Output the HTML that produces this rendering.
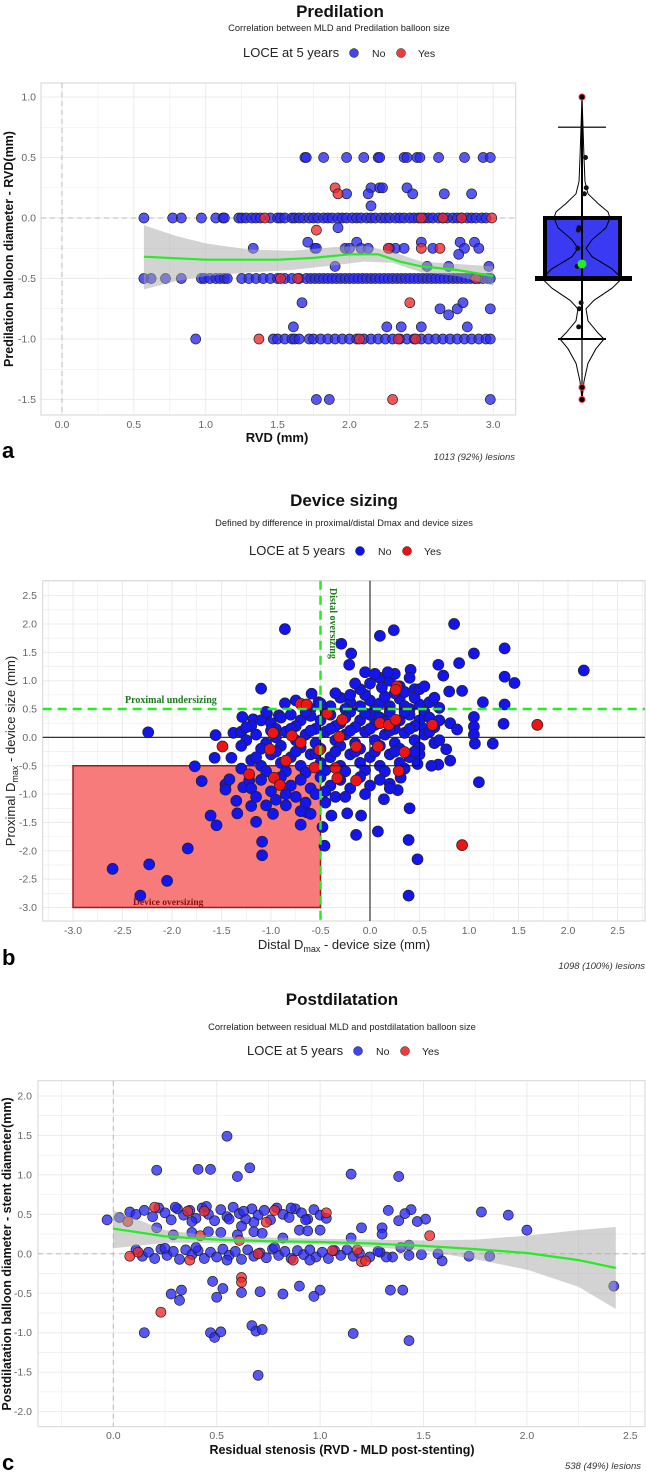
<!DOCTYPE html>
<html><head><meta charset="utf-8"><style>
html,body{margin:0;padding:0;background:#fff;}
svg{display:block;font-family:"Liberation Sans",sans-serif;}
</style></head><body>
<svg id="fig" width="646" height="1473" viewBox="0 0 646 1473"></svg>
<script>
// ---------------- Panel a data ----------------
const aNoX = [1.69,1.70,1.82,1.98,2.10,2.20,2.21,2.38,2.40,2.47,2.49,2.62,2.80,2.93,2.98, 2.15,2.21,2.23,2.40, 1.98,2.13,2.44,2.66,2.85, 2.15, 1.92,
 0.57,0.77,0.83,0.97,1.07,1.12,1.13,1.23,1.25,1.28,1.32,1.35,1.38,1.45,1.50,1.52,1.55,1.60,1.62,1.65,1.68,1.72,1.75,1.78,1.82,1.85,1.88,1.92,1.95,1.98,2.02,2.05,2.08,2.12,2.15,2.18,2.22,2.25,2.28,2.32,2.35,2.38,2.42,2.45,2.48,2.52,2.55,2.58,2.62,2.65,2.68,2.72,2.75,2.78,2.82,2.85,2.88,2.92,2.95,
 1.71,2.05,2.50,2.77,2.87, 1.33,1.76,1.77,1.97,2.00,2.08,2.13,2.28,2.32,2.38,2.58,2.80,2.90, 2.76, 1.90,2.54,2.69,2.97,
 0.57,0.62,0.72,0.83,0.97,0.99,1.03,1.07,1.10,1.13,1.15,1.25,1.30,1.35,1.40,1.45,1.50,1.55,1.60,1.65,1.70,1.73,1.76,1.79,1.82,1.85,1.88,1.91,1.94,1.97,2.00,2.03,2.06,2.09,2.12,2.15,2.18,2.21,2.24,2.27,2.30,2.33,2.36,2.39,2.42,2.45,2.48,2.51,2.54,2.57,2.60,2.63,2.66,2.69,2.72,2.75,2.78,2.81,2.84,2.87,2.90,2.93,2.96,2.98,
 1.67,2.63,2.75,2.98,2.69,2.79, 1.61,2.26,2.36,2.50,2.82,
 0.93,1.47,1.50,1.55,1.60,1.62,1.65,1.72,1.75,1.80,1.85,1.90,1.95,2.00,2.05,2.10,2.15,2.20,2.25,2.30,2.35,2.40,2.45,2.50,2.55,2.60,2.65,2.70,2.75,2.80,2.85,2.90,2.95,2.98,
 1.77,1.86,2.98];
const aNoY = [0.5,0.5,0.5,0.5,0.5,0.5,0.5,0.5,0.5,0.5,0.5,0.5,0.5,0.5,0.5, 0.25,0.25,0.25,0.25, 0.2,0.2,0.2,0.2,0.2, 0.1, -0.08,
 0,0,0,0,0,0,0,0,0,0,0,0,0,0,0,0,0,0,0,0,0,0,0,0,0,0,0,0,0,0,0,0,0,0,0,0,0,0,0,0,0,0,0,0,0,0,0,0,0,0,0,0,0,0,0,0,0,0,0,
 -0.2,-0.2,-0.2,-0.2,-0.2, -0.25,-0.25,-0.25,-0.25,-0.25,-0.25,-0.25,-0.25,-0.25,-0.25,-0.25,-0.25,-0.25, -0.3, -0.4,-0.4,-0.4,-0.4,
 -0.5,-0.5,-0.5,-0.5,-0.5,-0.5,-0.5,-0.5,-0.5,-0.5,-0.5,-0.5,-0.5,-0.5,-0.5,-0.5,-0.5,-0.5,-0.5,-0.5,-0.5,-0.5,-0.5,-0.5,-0.5,-0.5,-0.5,-0.5,-0.5,-0.5,-0.5,-0.5,-0.5,-0.5,-0.5,-0.5,-0.5,-0.5,-0.5,-0.5,-0.5,-0.5,-0.5,-0.5,-0.5,-0.5,-0.5,-0.5,-0.5,-0.5,-0.5,-0.5,-0.5,-0.5,-0.5,-0.5,-0.5,-0.5,-0.5,-0.5,-0.5,-0.5,-0.5,-0.5,
 -0.7,-0.75,-0.75,-0.75,-0.8,-0.7, -0.9,-0.9,-0.9,-0.9,-0.9,
 -1,-1,-1,-1,-1,-1,-1,-1,-1,-1,-1,-1,-1,-1,-1,-1,-1,-1,-1,-1,-1,-1,-1,-1,-1,-1,-1,-1,-1,-1,-1,-1,-1,-1,
 -1.5,-1.5,-1.5];
const aYesX = [1.90,1.92,1.41,2.50,2.65,2.78,2.99,1.77,2.27,2.50,2.63,1.52,1.64,2.88,2.42,1.37,2.07,2.34,2.46,2.30];
const aYesY = [0.25,0.2,0,0,0,0,0,-0.1,-0.25,-0.25,-0.25,-0.5,-0.5,-0.5,-0.7,-1,-1,-1,-1,-1.5];
const aFitX = [0.57,1.0,1.5,1.75,2.0,2.2,2.35,2.5,2.75,3.0];
const aFitY = [-0.32,-0.345,-0.345,-0.33,-0.30,-0.30,-0.36,-0.40,-0.43,-0.48];
const aBandX = [0.57,0.8,1.0,1.3,1.6,1.9,2.1,2.3,2.5,2.75,3.0];
const aBandHi = [-0.06,-0.15,-0.21,-0.26,-0.27,-0.24,-0.23,-0.28,-0.36,-0.38,-0.40];
const aBandLo = [-0.59,-0.52,-0.48,-0.45,-0.43,-0.39,-0.36,-0.37,-0.45,-0.48,-0.56];
const aXTicks = [0,0.5,1.0,1.5,2.0,2.5,3.0];
const aYTicks = [1.0,0.5,0,-0.5,-1.0,-1.5];
const aBox = {q1:-0.5, q3:0, lo:-1.0, hi:0.75, mean:-0.38};
const aOutliers = [1.0,-1.4,-1.5];

// ---------------- Panel b data ----------------
const bNoX = [-0.86,0.24,0.10,0.85,-0.29,-0.19,-0.21,1.05,1.36,0.90,0.69,2.16,1.36,1.46,0.74,0.41,-1.10,0.93,0.80,1.14,1.36,1.35,0.81,0.88,1.05,1.05,1.05,1.06,1.24,0.77,0.81,1.10,-2.24,-1.56,-1.38,-1.57,-1.40,-1.77,-1.70,-1.46,-1.46,-1.42,-1.35,-1.34,-1.61,-1.55,-1.15,-1.09,-1.09,-1.84,-2.23,-2.60,-2.05,-2.32,-0.70,-0.48,-0.46,-0.14,0.08,0.39,0.48,0.39,0.40,-0.23,-0.09,-0.39,-0.98,-0.64,-1.20,-1.28,-1.22,0.14,0.28,0.20,0.31,0.48,0.69,0.62,-1.29,-1.18,-0.86,-0.75,-0.59,-0.52,-0.92,-1.04,
 -0.5,-0.4,-0.3,-0.2,-0.1,0.0,0.1,0.2,0.3,0.4,0.5,0.6,-0.6,0.15,-0.25,0.05,0.35,0.55,0.7,-0.05,0.25,0.45,0.0,0.1,-0.1,0.2,0.3,0.35,0.45,-0.2,0.25,-0.05,0.05,0.18,0.5,0.55,-0.15,-0.35,0.4,0.65,0.12,
 -1.2,-1.1,-1.0,-0.9,-0.8,-0.7,-0.6,-0.5,-0.4,-0.3,-0.2,-0.1,0.0,0.1,0.2,0.3,0.4,0.5,0.6,-0.95,-0.75,-0.55,-0.35,-0.15,0.05,0.25,0.45,0.65,-0.65,-0.45,-0.25,-0.05,0.15,0.35,0.55,0.7,-1.05,-1.3,-1.25,
 -1.25,-1.15,-1.05,-0.95,-0.85,-0.75,-0.65,-0.55,-0.45,-0.35,-0.25,-0.15,-0.05,0.05,0.15,0.25,0.35,0.45,0.55,0.65,-1.1,-0.9,-0.7,-0.5,-0.3,-0.1,0.1,0.3,0.5,-1.0,-0.8,-0.6,-0.4,-0.2,0.0,0.2,0.4,0.6,0.7,-1.3,
 -1.2,-1.1,-1.0,-0.9,-0.8,-0.7,-0.6,-0.5,-0.4,-0.3,-0.2,-0.1,0.0,0.1,0.2,0.3,0.4,0.5,-1.05,-0.85,-0.65,-0.45,-0.25,-0.05,0.15,0.35,-0.95,-0.75,-0.55,-0.35,-0.15,0.05,0.25,0.45,-1.3,-1.15,
 -1.2,-1.1,-1.0,-0.9,-0.8,-0.7,-0.6,-0.5,-0.4,-0.3,-0.2,-0.1,0.0,0.1,0.2,-0.75,-0.65,-0.55,-0.45,-0.35,-0.95,-1.05,-0.85,-0.7,-0.6,-0.25,-0.05,-0.45,-0.85,-1.15];
const bNoY = [1.91,1.89,1.79,2.0,1.65,1.48,1.28,1.48,1.57,1.31,1.28,1.18,1.07,0.96,1.09,1.19,0.86,0.82,0.81,0.62,0.58,0.24,0.25,0.14,0.36,0.19,0.05,-0.11,-0.11,-0.21,-0.41,-0.79,0.09,0.04,0.08,-0.36,-0.36,-0.51,-0.77,-0.83,-0.92,-0.74,-1.12,-1.34,-1.38,-1.55,-1.49,-1.84,-2.08,-1.96,-2.24,-2.32,-2.53,-2.79,-1.54,-1.58,-1.91,-1.72,-1.66,-1.81,-2.15,-2.79,-1.25,-1.34,-1.38,-1.38,-1.35,-1.32,-1.21,-0.88,-0.76,-1.09,-0.93,-0.82,-0.71,-0.47,-0.48,-0.50,0.36,0.32,0.60,0.65,0.77,0.62,0.39,0.42,
 0.6,0.55,0.7,0.62,0.55,0.65,0.6,0.55,0.68,0.5,0.58,0.62,0.5,0.72,0.5,0.48,0.55,0.45,0.52,0.75,0.78,0.85,0.95,1.05,0.85,1.0,0.9,0.8,0.7,0.75,1.12,1.15,1.12,1.15,0.85,0.9,0.95,0.78,1.05,0.7,0.88,
 0.2,0.3,0.25,0.35,0.4,0.3,0.38,0.3,0.4,0.25,0.45,0.3,0.4,0.35,0.45,0.3,0.4,0.3,0.35,0.15,0.2,0.15,0.2,0.18,0.22,0.15,0.2,0.18,0.45,0.48,0.35,0.42,0.28,0.45,0.15,0.3,0.45,0.1,0.18,
 -0.05,0.05,-0.1,0.0,0.1,-0.05,0.05,-0.1,0.1,-0.05,0.05,-0.1,0.1,-0.05,0.05,-0.1,0.08,-0.05,0.05,-0.1,-0.2,-0.15,-0.18,-0.2,-0.15,-0.2,-0.15,-0.2,-0.18,0.12,0.15,0.12,0.15,0.12,0.15,0.12,0.15,0.1,-0.05,-0.15,
 -0.4,-0.5,-0.3,-0.45,-0.35,-0.5,-0.3,-0.45,-0.35,-0.5,-0.3,-0.45,-0.35,-0.5,-0.3,-0.45,-0.35,-0.3,-0.6,-0.6,-0.62,-0.58,-0.6,-0.58,-0.6,-0.55,-0.25,-0.25,-0.28,-0.25,-0.25,-0.25,-0.25,-0.25,-0.55,-0.35,
 -0.9,-0.75,-0.95,-0.7,-0.85,-0.75,-0.9,-0.7,-0.85,-0.75,-0.9,-0.7,-0.85,-0.75,-0.9,-1.05,-1.15,-1.0,-1.15,-1.05,-1.1,-1.2,-1.2,-1.3,-1.35,-1.05,-1.0,-0.95,-1.0,-1.05];
const bYesX = [1.69,-1.49,0.93,-0.70,-0.64,-0.98,-0.79,-0.85,-0.97,-0.91,-0.56,-0.51,-0.35,-0.33,-0.28,-0.31,-0.14,-0.14,0.10,0.08,0.19,0.26,0.35,0.27,0.26,0.63,0.29,-1.01,-1.22,-0.43,-0.70];
const bYesY = [0.22,-0.16,-1.90,0.59,0.58,0.08,0.03,-0.41,-0.71,-0.84,-0.53,-0.22,-0.54,-0.72,0.31,0.01,-0.16,-0.76,0.25,-0.16,0.22,0.31,-0.26,0.90,0.84,0.22,-0.59,-0.21,-0.65,0.42,-0.09];
const bXTicks = [-3.0,-2.5,-2.0,-1.5,-1.0,-0.5,0.0,0.5,1.0,1.5,2.0,2.5];
const bYTicks = [2.5,2.0,1.5,1.0,0.5,0.0,-0.5,-1.0,-1.5,-2.0,-2.5,-3.0];

// ---------------- Panel c data ----------------
const cNoX = [0.55,0.21,0.41,0.47,0.60,0.66,1.15,1.38,-0.03,0.03,1.78,1.91,2.00,2.42,1.72,1.82,1.59,1.57,1.49,1.51,1.47,1.44,1.33,1.30,1.30,1.20,1.38,1.41,1.43,1.39,1.43,1.35,1.32,1.29,
 0.48,0.53,0.50,0.62,0.71,0.82,0.90,1.00,0.97,1.34,1.40,0.28,0.33,0.32,0.15,0.47,0.49,0.52,0.67,0.69,0.72,0.70,1.16,1.43,
 0.08,0.11,0.15,0.19,0.22,0.25,0.28,0.31,0.34,0.37,0.40,0.43,0.46,0.49,0.52,0.55,0.58,0.61,0.64,0.67,0.70,0.73,0.76,0.79,0.82,0.85,0.88,0.91,0.94,0.97,1.00,1.03,0.30,0.38,0.45,0.56,0.63,0.68,0.86,0.93,
 0.11,0.14,0.17,0.20,0.23,0.26,0.29,0.32,0.35,0.38,0.41,0.44,0.47,0.50,0.53,0.56,0.59,0.62,0.65,0.68,0.71,0.74,0.77,0.80,0.83,0.86,0.89,0.92,0.95,0.98,1.01,1.04,1.07,1.10,1.13,1.16,1.19,1.24,1.28,0.25,0.40,0.55,0.78,0.95,
 0.21,0.29,0.38,0.46,0.52,0.60,0.68,0.72,0.82,0.90,0.94,1.00,1.15,0.62];
const cNoY = [1.49,1.06,1.07,1.07,0.98,1.09,1.01,0.98,0.43,0.46,0.53,0.49,0.30,-0.41,-0.03,-0.03,-0.09,0.0,-0.01,0.44,0.41,0.56,0.55,0.33,0.25,0.33,0.42,0.51,0.11,0.08,-0.02,-0.04,-0.04,0.02,
 -0.35,-0.44,-0.55,-0.49,-0.48,-0.51,-0.41,-0.46,-0.54,-0.46,-0.46,-0.51,-0.46,-0.59,-1.0,-1.0,-1.06,-0.99,-0.91,-0.98,-0.96,-1.54,-1.01,-1.10,
 0.53,0.50,0.55,0.47,0.58,0.52,0.43,0.57,0.49,0.55,0.45,0.58,0.50,0.42,0.56,0.47,0.59,0.51,0.44,0.57,0.49,0.55,0.43,0.58,0.50,0.46,0.57,0.52,0.44,0.56,0.49,0.45,0.59,0.41,0.60,0.44,0.54,0.40,0.58,0.43,
 0.05,-0.03,0.02,-0.06,0.06,-0.02,0.03,-0.07,0.05,-0.01,0.04,-0.06,0.02,-0.04,0.06,-0.02,0.03,-0.07,0.05,-0.03,0.01,-0.05,0.06,-0.02,0.03,-0.06,0.04,-0.01,0.05,-0.04,0.02,-0.06,0.04,-0.02,0.05,-0.03,0.01,-0.04,0.03,0.07,0.08,-0.08,0.08,-0.08,
 0.33,0.24,0.27,0.28,0.27,0.24,0.28,0.26,0.20,0.30,0.29,0.30,0.20,0.35];
const cYesX = [1.53,0.23,0.62,0.62,0.20,0.36,0.44,0.78,1.03,0.07,0.74,0.08,0.12,0.37,0.87,1.06,1.18,1.20,1.22,0.61,0.70,0.42];
const cYesY = [0.23,-0.74,-0.30,-0.36,0.59,0.54,0.54,0.55,0.52,0.41,0.40,-0.03,0.02,-0.08,-0.08,0.04,0.05,-0.10,-0.09,0.17,0.0,0.23];
const cFitX = [0,0.25,0.5,0.75,1.0,1.25,1.5,1.75,2.0,2.25,2.43];
const cFitY = [0.32,0.22,0.18,0.16,0.15,0.13,0.10,0.06,0.01,-0.08,-0.18];
const cBandX = [0,0.25,0.5,1.0,1.5,1.75,2.0,2.25,2.43];
const cBandHi = [0.55,0.30,0.22,0.19,0.17,0.18,0.23,0.30,0.34];
const cBandLo = [0.07,0.14,0.14,0.12,0.04,-0.07,-0.20,-0.42,-0.70];
const cXTicks = [0.0,0.5,1.0,1.5,2.0,2.5];
const cYTicks = [2.0,1.5,1.0,0.5,0.0,-0.5,-1.0,-1.5,-2.0];

// ---------------- helpers ----------------
const NS = "http://www.w3.org/2000/svg";
const svg = document.getElementById('fig');
function mk(tag, attrs, parent){ const e=document.createElementNS(NS,tag); for(const k in attrs) e.setAttribute(k,attrs[k]); (parent||svg).appendChild(e); return e; }
function lin(d0,d1,r0,r1){ return v => r0 + (v-d0)*(r1-r0)/(d1-d0); }
function txt(s, x, y, o, name){ const t=mk('text',Object.assign({x:x,y:y},o)); t.textContent=s;
  
  
  return t; }

function grid(g, X, Y, x0,x1,y0,y1, xs, ys, xstep, ystep){
  for(let v=Math.ceil(xs[0]/xstep)*xstep; v<=xs[1]+1e-9; v+=xstep){ const px=X(v); mk('line',{x1:px,x2:px,y1:y0,y2:y1,stroke:'#ebebeb','stroke-width':(Math.abs(v/(xstep*2)-Math.round(v/(xstep*2)))<1e-6)?1:0.6},g); }
  for(let v=Math.ceil(ys[0]/ystep)*ystep; v<=ys[1]+1e-9; v+=ystep){ const py=Y(v); mk('line',{x1:x0,x2:x1,y1:py,y2:py,stroke:'#ebebeb','stroke-width':(Math.abs(v/(ystep*2)-Math.round(v/(ystep*2)))<1e-6)?1:0.6},g); }
}
function dots(g, xs, ys, X, Y, fill, r, name){
  for(let i=0;i<xs.length;i++){
    const c=mk('circle',{cx:X(xs[i]).toFixed(1),cy:Y(ys[i]).toFixed(1),r:r,fill:fill,stroke:'#222','stroke-width':0.7},g);
    
    
  }
}
function band(g, xs, hi, lo, X, Y){
  let d='M'+xs.map((v,i)=>X(v).toFixed(1)+','+Y(hi[i]).toFixed(1)).join('L');
  d+='L'+xs.map((v,i)=>X(v).toFixed(1)+','+Y(lo[i]).toFixed(1)).reverse().join('L')+'Z';
  const p=mk('path',{d:d,fill:'#a8a8a8','fill-opacity':0.5,stroke:'none'},g);
  
  
}
function fit(g, xs, ys, X, Y){
  const p=mk('polyline',{points:xs.map((v,i)=>X(v).toFixed(1)+','+Y(ys[i]).toFixed(1)).join(' '),fill:'none',stroke:'#22ee22','stroke-width':2.2},g);
  
  
}
function legend(g, cx, y, noFill, yesFill){
  const t=txt('LOCE at 5 years', cx-95, y, {'font-size':13,fill:'#222'}, 'legend-title'); g.appendChild(t);
  const d1=mk('circle',{cx:cx+16,cy:y-4,r:4.5,fill:noFill,stroke:'#222','stroke-width':0.5},g);
   
  g.appendChild(txt('No', cx+34, y, {'font-size':10.5,fill:'#222'}, 'legend-no-label'));
  const d2=mk('circle',{cx:cx+63,cy:y-4,r:4.5,fill:yesFill,stroke:'#222','stroke-width':0.5},g);
   
  g.appendChild(txt('Yes', cx+80, y, {'font-size':10.5,fill:'#222'}, 'legend-yes-label'));
}
function ticks(g, X, Y, xt, yt, xLab, yLab){
  xt.forEach(v=>g.appendChild(txt(v.toFixed(1), X(v), xLab, {'font-size':10.5,fill:'#666','text-anchor':'middle'}, 'x-tick-label')));
  yt.forEach(v=>g.appendChild(txt(v.toFixed(1), yLab, Y(v)+3.5, {'font-size':10.5,fill:'#666','text-anchor':'end'}, 'y-tick-label')));
}
const BLUE_A='rgba(40,40,245,0.78)', RED_A='rgba(240,40,40,0.78)';

// ================= Panel a =================
(function(){
  const g=mk('g',{});  
  const L=41,R=515.7,T=83,B=415;
  const X=lin(0,3,62,493.2), Y=lin(0,1,218,97);
  g.appendChild(txt('Predilation',340,17,{'font-size':17,'font-weight':'bold','text-anchor':'middle',fill:'#111'},'chart-title'));
  g.appendChild(txt('Correlation between MLD and Predilation balloon size',339,31,{'font-size':9.3,'text-anchor':'middle',fill:'#222'},'chart-subtitle'));
  legend(g,338,57,'#4444ee','#ee3b3b');
  grid(g,X,Y,L,R,T,B,[-0.14,3.15],[-1.62,1.11],0.25,0.25);
  mk('rect',{x:L,y:T,width:R-L,height:B-T,fill:'none',stroke:'#d6d6d6','stroke-width':1},g);
  mk('line',{x1:X(0),x2:X(0),y1:T,y2:B,stroke:'#bbb','stroke-dasharray':'5,4','stroke-width':1},g);
  mk('line',{x1:L,x2:R,y1:Y(0),y2:Y(0),stroke:'#bbb','stroke-dasharray':'5,4','stroke-width':1},g);
  dots(g,aNoX,aNoY,X,Y,BLUE_A,5,'point-no');
  dots(g,aYesX,aYesY,X,Y,RED_A,5,'point-yes');
  band(g,aBandX,aBandHi,aBandLo,X,Y);
  fit(g,aFitX,aFitY,X,Y);
  ticks(g,X,Y,aXTicks,aYTicks,428,36);
  g.appendChild(txt('RVD (mm)',277,442,{'font-size':13,'font-weight':'bold','text-anchor':'middle',fill:'#111'},'x-axis-title'));
  g.appendChild(txt('Predilation balloon diameter - RVD(mm)',0,0,{'font-size':12.5,'font-weight':'bold','text-anchor':'middle',fill:'#111',transform:'translate(13,249) rotate(-90)'},'y-axis-title'));
  g.appendChild(txt('a',2,458,{'font-size':22,'font-weight':'bold',fill:'#000'},'panel-label-a'));
  g.appendChild(txt('1013 (92%) lesions',515,460,{'font-size':9.5,'font-style':'italic','text-anchor':'end',fill:'#333'},'lesion-count'));
  // box/violin
  const cx=582;
  const vy=[1.0,0.75,0.5,0.3,0.2,0.12,0.05,0.0,-0.08,-0.18,-0.25,-0.32,-0.42,-0.5,-0.58,-0.68,-0.75,-0.85,-0.95,-1.0,-1.08,-1.2,-1.35,-1.5];
  const vw=[0,1,2,3,6,16,26,28,24,10,4,10,30,40,30,12,4,6,16,22,14,6,2,0];
  let d='M'+vy.map((v,i)=>(cx+vw[i])+','+Y(v).toFixed(1)).join('L')+'L'+vy.map((v,i)=>(cx-vw[i])+','+Y(v).toFixed(1)).reverse().join('L')+'Z';
  const box=mk('rect',{x:545,y:Y(aBox.q3),width:75,height:Y(aBox.q1)-Y(aBox.q3),fill:'#3a3af2',stroke:'#000','stroke-width':4},g);
   
  mk('line',{x1:cx,x2:cx,y1:Y(aBox.hi),y2:Y(aBox.lo),stroke:'#000','stroke-width':2},g);
  mk('line',{x1:cx,x2:cx,y1:Y(1.0),y2:Y(-1.5),stroke:'#000','stroke-width':1.2},g);
  mk('line',{x1:558,x2:606,y1:Y(aBox.hi),y2:Y(aBox.hi),stroke:'#333','stroke-width':1.5},g);
  mk('line',{x1:558,x2:606,y1:Y(aBox.lo),y2:Y(aBox.lo),stroke:'#000','stroke-width':2},g);
  mk('line',{x1:535,x2:632,y1:Y(aBox.q1),y2:Y(aBox.q1),stroke:'#000','stroke-width':5},g);
  const vp=mk('path',{d:d,fill:'none',stroke:'#000','stroke-width':1},g);
   
  [0.5,0.25,0.2,-0.08,-0.1,-0.25,-0.4,-0.7,-0.75,-0.9].forEach(v=>mk('circle',{cx:cx+((v*37)%5),cy:Y(v),r:2.5,fill:'#111'},g));
  aOutliers.forEach(v=>{mk('circle',{cx:cx,cy:Y(v),r:3,fill:'#000',stroke:'#e33','stroke-width':1},g);});
  const m=mk('circle',{cx:cx,cy:Y(aBox.mean),r:4.5,fill:'#22ee22'},g);
   
})();

// ================= Panel b =================
(function(){
  const g=mk('g',{});  
  const L=42.7,R=645,T=580.7,B=921;
  const X=lin(0,1,370,469), Y=lin(0,1,737.4,680.7);
  g.appendChild(txt('Device sizing',344,506,{'font-size':17,'font-weight':'bold','text-anchor':'middle',fill:'#111'},'chart-title'));
  g.appendChild(txt('Defined by difference in proximal/distal Dmax and device sizes',344,526,{'font-size':9.3,'text-anchor':'middle',fill:'#222'},'chart-subtitle'));
  legend(g,344,555,'#1010ee','#ee1010');
  grid(g,X,Y,L,R,T,B,[-3.3,2.78],[-3.23,2.76],0.25,0.25);
  mk('rect',{x:L,y:T,width:R-L,height:B-T,fill:'none',stroke:'#d6d6d6','stroke-width':1},g);
  const rz=mk('rect',{x:X(-3),y:Y(-0.5),width:X(-0.5)-X(-3),height:Y(-3)-Y(-0.5),fill:'#f77b7b',stroke:'#a01818','stroke-width':1.5},g);
   
  mk('line',{x1:X(0),x2:X(0),y1:T,y2:B,stroke:'#333','stroke-width':1.2},g);
  mk('line',{x1:L,x2:R,y1:Y(0),y2:Y(0),stroke:'#333','stroke-width':1.2},g);
  dots(g,bNoX,bNoY,X,Y,'#1414ee',5.5,'point-no');
  dots(g,bYesX,bYesY,X,Y,'#ee1414',5.5,'point-yes');
  mk('rect',{x:X(-0.5),y:Y(0.5),width:X(0.5)-X(-0.5),height:Y(-0.5)-Y(0.5),fill:'none',stroke:'#111','stroke-width':1},g);
  mk('line',{x1:X(-0.5),x2:X(-0.5),y1:T,y2:B,stroke:'#22ee22','stroke-width':2.5,'stroke-dasharray':'9,6'},g);
  mk('line',{x1:L,x2:R,y1:Y(0.5),y2:Y(0.5),stroke:'#22ee22','stroke-width':2.5,'stroke-dasharray':'9,6'},g);
  g.appendChild(txt('Proximal undersizing',125,703,{'font-size':10,'font-weight':'bold','font-family':'Liberation Serif, serif',fill:'#1d7a1d'},'proximal-undersizing-label'));
  g.appendChild(txt('Distal oversizing',0,0,{'font-size':10,'font-weight':'bold','font-family':'Liberation Serif, serif',fill:'#1d7a1d',transform:'translate(330,588) rotate(90)'},'distal-oversizing-label'));
  g.appendChild(txt('Device oversizing',133,905,{'font-size':9.5,'font-weight':'bold','font-family':'Liberation Serif, serif',fill:'#8a1010'},'device-oversizing-label'));
  ticks(g,X,Y,bXTicks,bYTicks,934,37);
  const xt=txt('',344,949,{'font-size':13,'text-anchor':'middle',fill:'#222'},'x-axis-title');
  xt.innerHTML='Distal D<tspan font-size="9" dy="3">max</tspan><tspan dy="-3"> - device size (mm)</tspan>'; g.appendChild(xt);
  const yt=txt('',0,0,{'font-size':13,'text-anchor':'middle',fill:'#222',transform:'translate(15,751) rotate(-90)'},'y-axis-title');
  yt.innerHTML='Proximal D<tspan font-size="9" dy="3">max</tspan><tspan dy="-3"> - device size (mm)</tspan>'; g.appendChild(yt);
  g.appendChild(txt('b',2,965,{'font-size':22,'font-weight':'bold',fill:'#000'},'panel-label-b'));
  g.appendChild(txt('1098 (100%) lesions',645,969,{'font-size':9.5,'font-style':'italic','text-anchor':'end',fill:'#333'},'lesion-count'));
})();

// ================= Panel c =================
(function(){
  const g=mk('g',{});  
  const L=38,R=645,T=1080.7,B=1426.7;
  const X=lin(0,1,113.3,320.1), Y=lin(0,1,1253.8,1174.9);
  g.appendChild(txt('Postdilatation',342,1005,{'font-size':17,'font-weight':'bold','text-anchor':'middle',fill:'#111'},'chart-title'));
  g.appendChild(txt('Correlation between residual MLD and postdilatation balloon size',342,1030,{'font-size':9.3,'text-anchor':'middle',fill:'#222'},'chart-subtitle'));
  legend(g,342,1055,'#4444ee','#ee3b3b');
  grid(g,X,Y,L,R,T,B,[-0.36,2.57],[-2.18,2.19],0.25,0.25);
  mk('rect',{x:L,y:T,width:R-L,height:B-T,fill:'none',stroke:'#d6d6d6','stroke-width':1},g);
  mk('line',{x1:X(0),x2:X(0),y1:T,y2:B,stroke:'#bbb','stroke-dasharray':'5,4','stroke-width':1},g);
  mk('line',{x1:L,x2:R,y1:Y(0),y2:Y(0),stroke:'#bbb','stroke-dasharray':'5,4','stroke-width':1},g);
  dots(g,cNoX,cNoY,X,Y,BLUE_A,5,'point-no');
  dots(g,cYesX,cYesY,X,Y,RED_A,5,'point-yes');
  band(g,cBandX,cBandHi,cBandLo,X,Y);
  fit(g,cFitX,cFitY,X,Y);
  ticks(g,X,Y,cXTicks,cYTicks,1439,32);
  g.appendChild(txt('Residual stenosis (RVD - MLD post-stenting)',342,1454,{'font-size':12.5,'font-weight':'bold','text-anchor':'middle',fill:'#111'},'x-axis-title'));
  g.appendChild(txt('Postdilatation balloon diameter - stent diameter(mm)',0,0,{'font-size':12.5,'font-weight':'bold','text-anchor':'middle',fill:'#111',transform:'translate(11,1254) rotate(-90)'},'y-axis-title'));
  g.appendChild(txt('c',2,1470,{'font-size':22,'font-weight':'bold',fill:'#000'},'panel-label-c'));
  g.appendChild(txt('538 (49%) lesions',641,1469,{'font-size':9.5,'font-style':'italic','text-anchor':'end',fill:'#333'},'lesion-count'));
})();
</script>
</body></html>
